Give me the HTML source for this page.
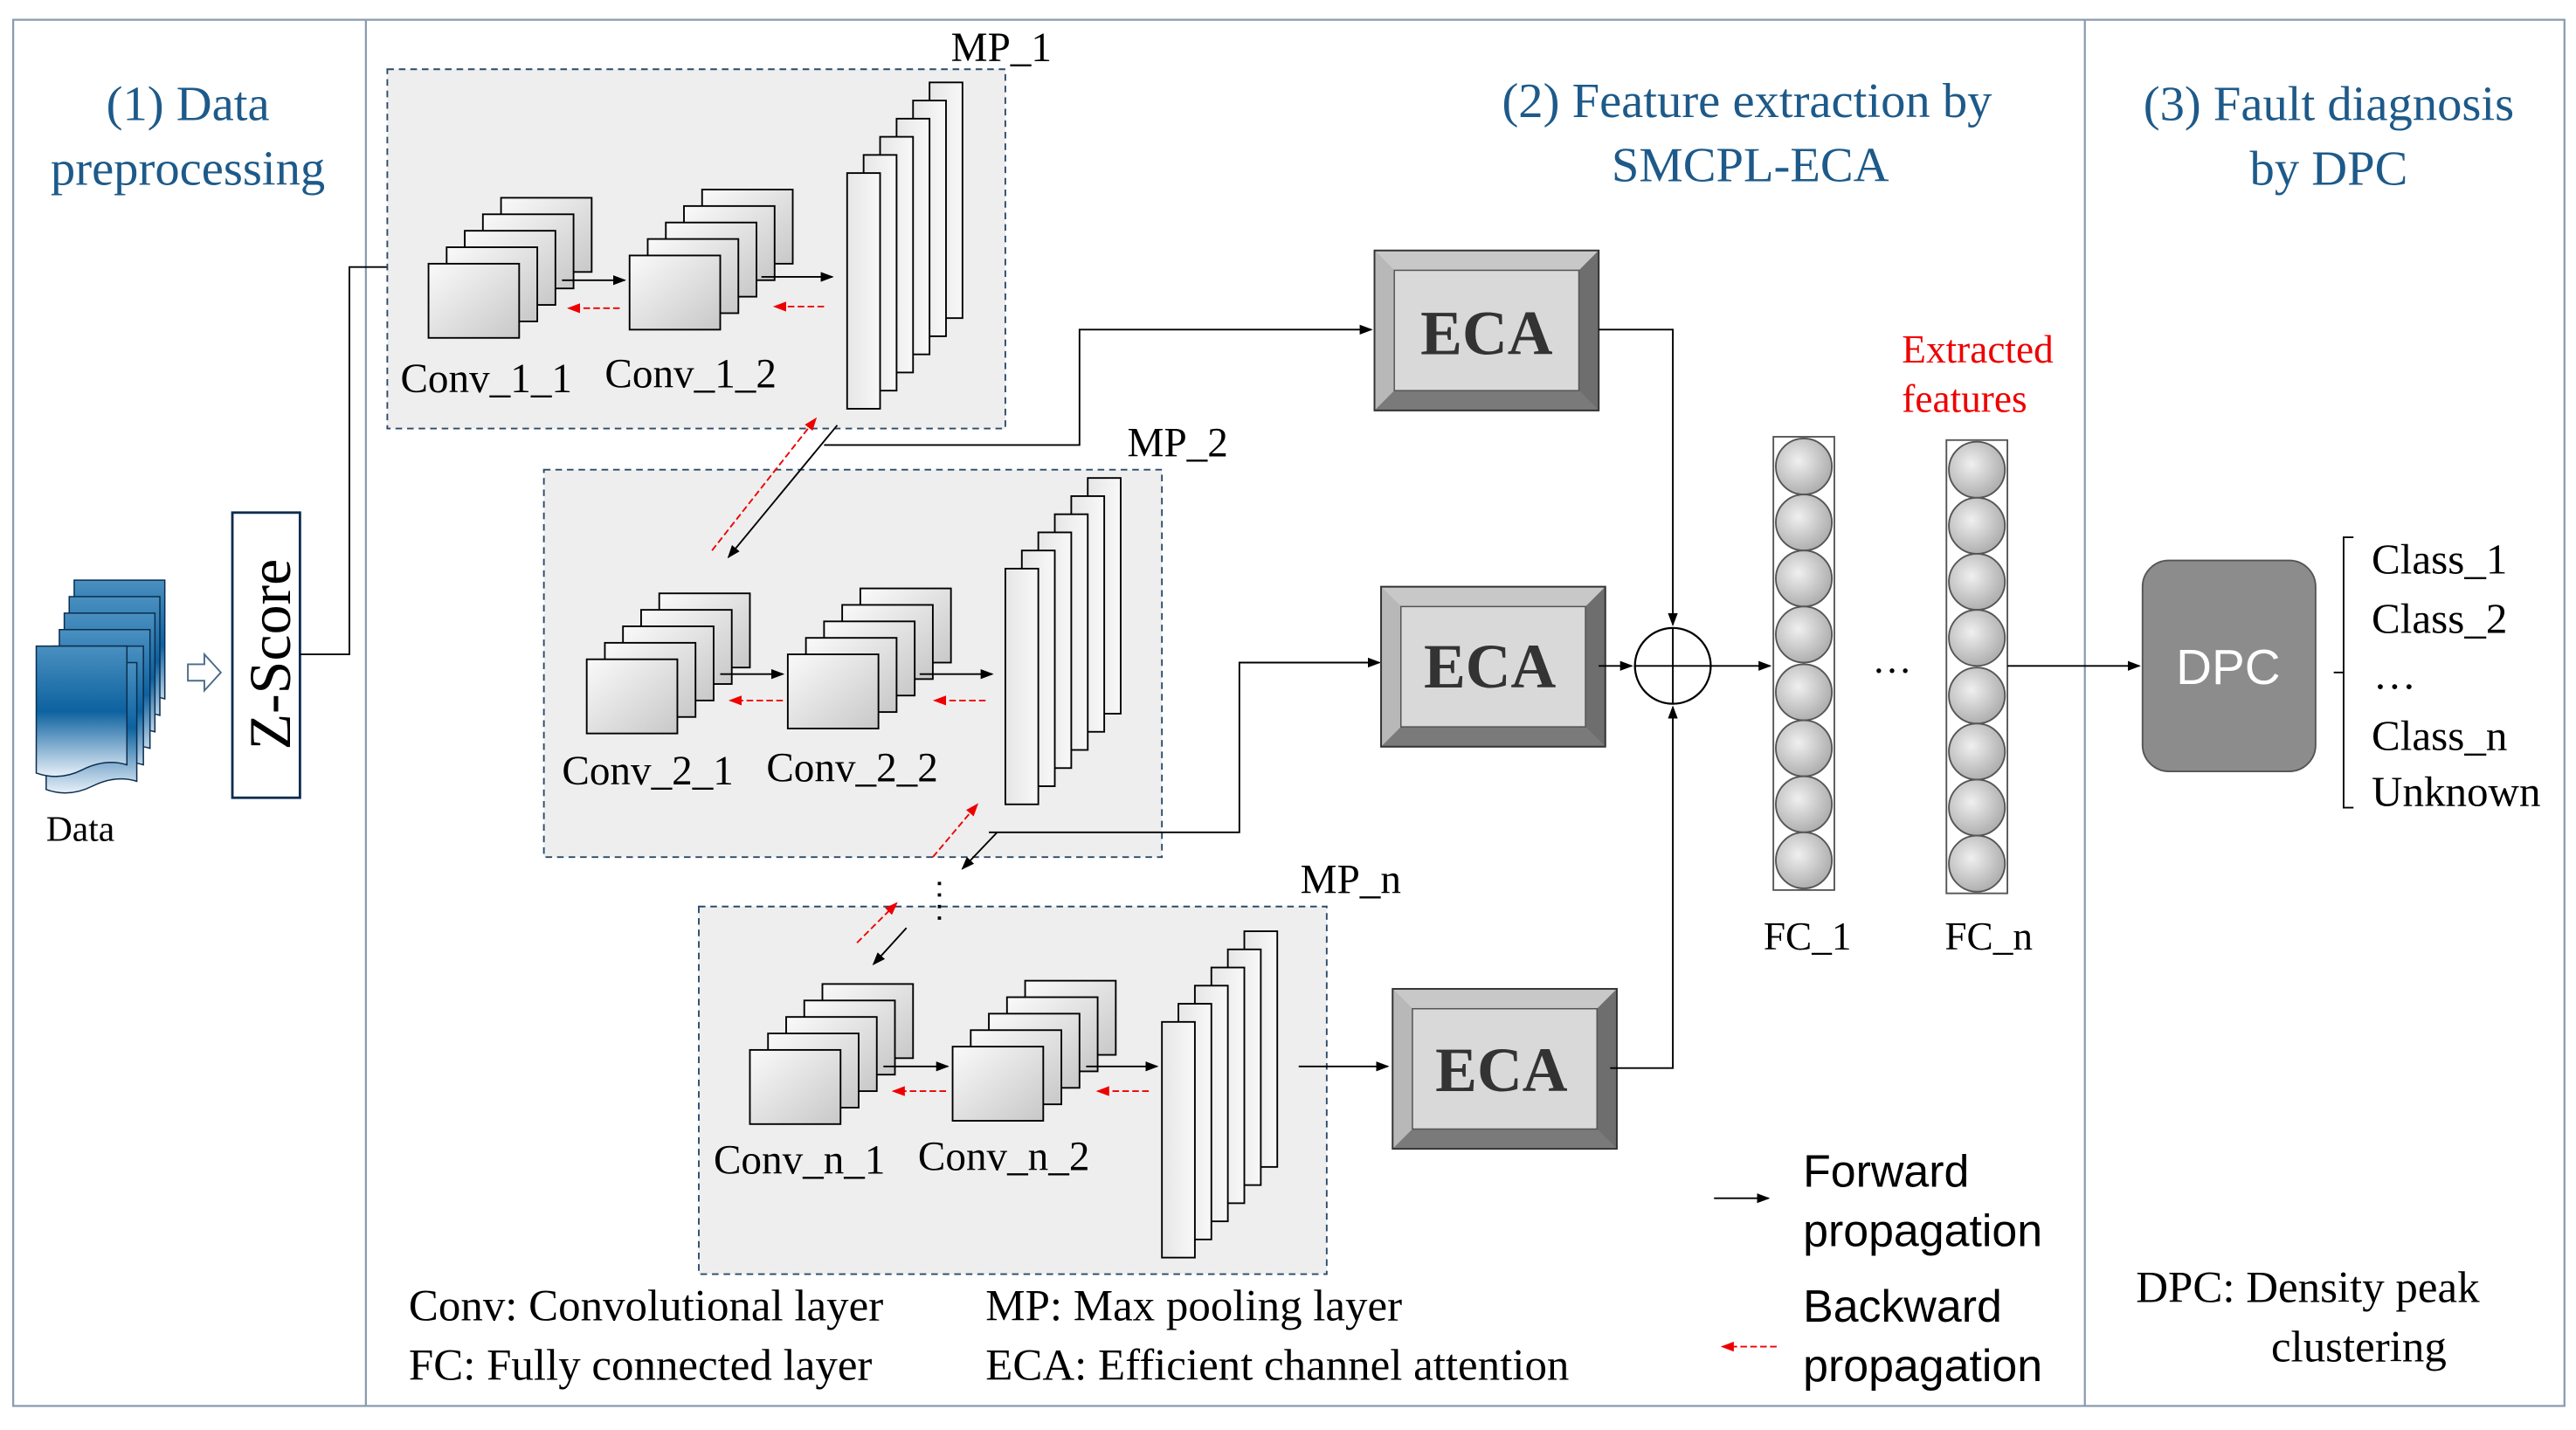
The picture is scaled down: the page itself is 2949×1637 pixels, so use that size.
<!DOCTYPE html>
<html><head><meta charset="utf-8">
<style>
html,body{margin:0;padding:0;background:#fff;}
svg{display:block;}
text{font-family:"Liberation Serif",serif;}
</style></head>
<body>
<svg width="2949" height="1637" viewBox="0 0 1563 867.6" preserveAspectRatio="none" xmlns="http://www.w3.org/2000/svg">
<defs>
<linearGradient id="gc" x1="0" y1="0" x2="1" y2="1"><stop offset="0" stop-color="#fafafa"/><stop offset="1" stop-color="#c8c8c8"/></linearGradient>
<linearGradient id="gm" x1="0" y1="0" x2="1" y2="0"><stop offset="0" stop-color="#e6e6e6"/><stop offset="1" stop-color="#f8f8f8"/></linearGradient>
<radialGradient id="gn" cx="0.4" cy="0.4" r="0.6"><stop offset="0" stop-color="#f0f0f0"/><stop offset="1" stop-color="#b0b0b0"/></radialGradient>
<linearGradient id="gd" x1="0" y1="0" x2="0" y2="1"><stop offset="0" stop-color="#4a90c0"/><stop offset="0.5" stop-color="#0d62a0"/><stop offset="1" stop-color="#e8f0f8"/></linearGradient>
<marker id="ab" markerWidth="8" markerHeight="8" refX="7" refY="4" orient="auto" markerUnits="userSpaceOnUse"><path d="M0,1 L8,4 L0,7 z" fill="#000"/></marker>
<marker id="ar" markerWidth="8" markerHeight="8" refX="7" refY="4" orient="auto" markerUnits="userSpaceOnUse"><path d="M0,1 L8,4 L0,7 z" fill="#e00"/></marker>
<g id="conv">
<rect x="44" y="-40" width="55" height="45" fill="url(#gc)" stroke="#000" stroke-width="1"/>
<rect x="33" y="-30" width="55" height="45" fill="url(#gc)" stroke="#000" stroke-width="1"/>
<rect x="22" y="-20" width="55" height="45" fill="url(#gc)" stroke="#000" stroke-width="1"/>
<rect x="11" y="-10" width="55" height="45" fill="url(#gc)" stroke="#000" stroke-width="1"/>
<rect x="0" y="0" width="55" height="45" fill="url(#gc)" stroke="#000" stroke-width="1"/>
</g>
<g id="mp">
<rect x="50" y="-55" width="20" height="143" fill="url(#gm)" stroke="#000"/>
<rect x="40" y="-44" width="20" height="143" fill="url(#gm)" stroke="#000"/>
<rect x="30" y="-33" width="20" height="143" fill="url(#gm)" stroke="#000"/>
<rect x="20" y="-22" width="20" height="143" fill="url(#gm)" stroke="#000"/>
<rect x="10" y="-11" width="20" height="143" fill="url(#gm)" stroke="#000"/>
<rect x="0" y="0" width="20" height="143" fill="url(#gm)" stroke="#000"/>
</g>
<g id="eca">
<rect x="0" y="0" width="136" height="97" fill="#9a9a9a" stroke="#333"/>
<polygon points="0,0 136,0 124,12 12,12" fill="#c8c8c8"/>
<polygon points="0,0 12,12 12,85 0,97" fill="#b8b8b8"/>
<polygon points="136,0 136,97 124,85 124,12" fill="#6e6e6e"/>
<polygon points="0,97 136,97 124,85 12,85" fill="#7a7a7a"/>
<rect x="12" y="12" width="112" height="73" fill="#d9d9d9" stroke="#555" stroke-width="0.8"/>
<rect x="0" y="0" width="136" height="97" fill="none" stroke="#333"/>
</g>
<g id="fc">
<rect x="0" y="0" width="37" height="275" fill="#fff" stroke="#555"/>
<circle cx="18.5" cy="18" r="17" fill="url(#gn)" stroke="#555"/>
<circle cx="18.5" cy="52" r="17" fill="url(#gn)" stroke="#555"/>
<circle cx="18.5" cy="86" r="17" fill="url(#gn)" stroke="#555"/>
<circle cx="18.5" cy="120" r="17" fill="url(#gn)" stroke="#555"/>
<circle cx="18.5" cy="155" r="17" fill="url(#gn)" stroke="#555"/>
<circle cx="18.5" cy="189" r="17" fill="url(#gn)" stroke="#555"/>
<circle cx="18.5" cy="223" r="17" fill="url(#gn)" stroke="#555"/>
<circle cx="18.5" cy="257" r="17" fill="url(#gn)" stroke="#555"/>
</g>
<g id="sheet"><path d="M0,0 H55 V72 Q42,68 28,75 Q14,82 0,77 Z" fill="url(#gd)" stroke="#0b2d50" stroke-width="0.8"/></g>
</defs>

<rect x="8" y="12" width="1548" height="841" fill="none" stroke="#8a9bb0" stroke-width="1.2"/>
<line x1="222" y1="12" x2="222" y2="853" stroke="#8a9bb0" stroke-width="1.2"/>
<line x1="1265" y1="12" x2="1265" y2="853" stroke="#8a9bb0" stroke-width="1.2"/>

<g fill="#1d5a8a" font-size="30" text-anchor="middle">
<text x="114" y="73">(1) Data</text>
<text x="114" y="112">preprocessing</text>
<text x="1060" y="71">(2) Feature extraction by</text>
<text x="1062" y="110">SMCPL-ECA</text>
<text x="1413" y="73">(3) Fault diagnosis</text>
<text x="1413" y="112">by DPC</text>
</g>

<use href="#sheet" x="45" y="352"/>
<use href="#sheet" x="42" y="362"/>
<use href="#sheet" x="39" y="372"/>
<use href="#sheet" x="36" y="382"/>
<use href="#sheet" x="32" y="392"/>
<use href="#sheet" x="28" y="402"/>
<use href="#sheet" x="22" y="392"/>
<text x="28" y="510" font-size="22">Data</text>
<path d="M114,403 H124 V397 L134,408 L124,419 V413 H114 Z" fill="#fff" stroke="#4a6a8a"/>
<rect x="141" y="311" width="41" height="173" fill="#fff" stroke="#0b2d50" stroke-width="1.5"/>
<text transform="translate(176,397) rotate(-90)" text-anchor="middle" font-size="36">Z-Score</text>
<polyline points="182,397 212,397 212,162 246,162" fill="none" stroke="#000" marker-end="url(#ab)"/>

<rect x="235" y="42" width="375" height="218" fill="#eeeeee" stroke="#2c4a6a" stroke-dasharray="4,3"/>
<use href="#conv" x="260" y="160"/>
<use href="#conv" x="382" y="155"/>
<use href="#mp" x="514" y="105"/>
<line x1="341" y1="170" x2="379" y2="170" stroke="#000" marker-end="url(#ab)"/>
<line x1="376" y1="187" x2="345" y2="187" stroke="#e00" stroke-dasharray="4,2" marker-end="url(#ar)"/>
<line x1="462" y1="168" x2="505" y2="168" stroke="#000" marker-end="url(#ab)"/>
<line x1="500" y1="186" x2="470" y2="186" stroke="#e00" stroke-dasharray="4,2" marker-end="url(#ar)"/>

<rect x="330" y="285" width="375" height="235" fill="#eeeeee" stroke="#2c4a6a" stroke-dasharray="4,3"/>
<use href="#conv" x="356" y="400"/>
<use href="#conv" x="478" y="397"/>
<use href="#mp" x="610" y="345"/>
<line x1="437" y1="409" x2="475" y2="409" stroke="#000" marker-end="url(#ab)"/>
<line x1="475" y1="425" x2="443" y2="425" stroke="#e00" stroke-dasharray="4,2" marker-end="url(#ar)"/>
<line x1="558" y1="409" x2="602" y2="409" stroke="#000" marker-end="url(#ab)"/>
<line x1="598" y1="425" x2="567" y2="425" stroke="#e00" stroke-dasharray="4,2" marker-end="url(#ar)"/>

<rect x="424" y="550" width="381" height="223" fill="#eeeeee" stroke="#2c4a6a" stroke-dasharray="4,3"/>
<use href="#conv" x="455" y="637"/>
<use href="#conv" x="578" y="635"/>
<use href="#mp" x="705" y="620"/>
<line x1="536" y1="647" x2="575" y2="647" stroke="#000" marker-end="url(#ab)"/>
<line x1="574" y1="662" x2="542" y2="662" stroke="#e00" stroke-dasharray="4,2" marker-end="url(#ar)"/>
<line x1="659" y1="647" x2="702" y2="647" stroke="#000" marker-end="url(#ab)"/>
<line x1="697" y1="662" x2="666" y2="662" stroke="#e00" stroke-dasharray="4,2" marker-end="url(#ar)"/>

<g font-size="25">
<text x="243" y="238">Conv_1_1</text>
<text x="367" y="235">Conv_1_2</text>
<text x="577" y="37">MP_1</text>
<text x="684" y="277">MP_2</text>
<text x="341" y="476">Conv_2_1</text>
<text x="465" y="474">Conv_2_2</text>
<text x="433" y="712">Conv_n_1</text>
<text x="557" y="710">Conv_n_2</text>
<text x="789" y="542">MP_n</text>
</g>

<line x1="508" y1="258" x2="442" y2="338" stroke="#000" marker-end="url(#ab)"/>
<line x1="432" y1="334" x2="495" y2="254" stroke="#e00" stroke-dasharray="4,2" marker-end="url(#ar)"/>
<line x1="605" y1="505" x2="584" y2="527" stroke="#000" marker-end="url(#ab)"/>
<line x1="566" y1="520" x2="593" y2="488" stroke="#e00" stroke-dasharray="4,2" marker-end="url(#ar)"/>
<line x1="570" y1="535" x2="570" y2="558" stroke="#000" stroke-width="2" stroke-dasharray="2,5"/>
<line x1="550" y1="563" x2="530" y2="585" stroke="#000" marker-end="url(#ab)"/>
<line x1="520" y1="572" x2="544" y2="548" stroke="#e00" stroke-dasharray="4,2" marker-end="url(#ar)"/>

<polyline points="500,270 655,270 655,200 832,200" fill="none" stroke="#000" marker-end="url(#ab)"/>
<polyline points="600,505 752,505 752,402 837,402" fill="none" stroke="#000" marker-end="url(#ab)"/>
<line x1="788" y1="647" x2="842" y2="647" stroke="#000" marker-end="url(#ab)"/>

<use href="#eca" x="834" y="152"/>
<use href="#eca" x="838" y="356"/>
<use href="#eca" x="845" y="600"/>
<g font-size="38" font-weight="bold" fill="#333" text-anchor="middle">
<text x="902" y="215">ECA</text>
<text x="904" y="417">ECA</text>
<text x="911" y="662">ECA</text>
</g>

<polyline points="970,200 1015,200 1015,379" fill="none" stroke="#000" marker-end="url(#ab)"/>
<line x1="970" y1="404" x2="990" y2="404" stroke="#000" marker-end="url(#ab)"/>
<polyline points="977,648 1015,648 1015,429" fill="none" stroke="#000" marker-end="url(#ab)"/>
<circle cx="1015" cy="404" r="23" fill="#fff" stroke="#000" stroke-width="1.2"/>
<line x1="992" y1="404" x2="1038" y2="404" stroke="#000"/>
<line x1="1015" y1="381" x2="1015" y2="427" stroke="#000"/>
<line x1="1038" y1="404" x2="1074" y2="404" stroke="#000" marker-end="url(#ab)"/>

<use href="#fc" x="1076" y="265"/>
<use href="#fc" x="1181" y="267"/>
<text x="1148" y="408" font-size="24" text-anchor="middle">…</text>
<text x="1070" y="576" font-size="24">FC_1</text>
<text x="1180" y="576" font-size="24">FC_n</text>
<text x="1154" y="220" font-size="24" fill="#e00">Extracted</text>
<text x="1154" y="250" font-size="24" fill="#e00">features</text>
<line x1="1218" y1="404" x2="1298" y2="404" stroke="#000" marker-end="url(#ab)"/>

<rect x="1300" y="340" width="105" height="128" rx="16" fill="#8c8c8c" stroke="#555"/>
<text x="1352" y="415" font-size="30" fill="#fff" text-anchor="middle" style="font-family:'Liberation Sans',sans-serif">DPC</text>
<path d="M1428,326 H1422 V490 H1428 M1422,408 H1416" fill="none" stroke="#000"/>
<g font-size="26">
<text x="1439" y="348">Class_1</text>
<text x="1439" y="384">Class_2</text>
<text x="1440" y="418">…</text>
<text x="1439" y="455">Class_n</text>
<text x="1439" y="489">Unknown</text>
</g>

<g font-size="27">
<text x="248" y="801">Conv: Convolutional layer</text>
<text x="248" y="837">FC: Fully connected layer</text>
<text x="598" y="801">MP: Max pooling layer</text>
<text x="598" y="837">ECA: Efficient channel attention</text>
<text x="1296" y="790">DPC:  Density peak</text>
<text x="1378" y="826">clustering</text>
</g>
<line x1="1040" y1="727" x2="1073" y2="727" stroke="#000" marker-end="url(#ab)"/>
<line x1="1078" y1="817" x2="1045" y2="817" stroke="#e00" stroke-dasharray="4,2" marker-end="url(#ar)"/>
<g font-size="27.5">
<text x="1094" y="720" style="font-family:'Liberation Sans',sans-serif">Forward</text>
<text x="1094" y="756" style="font-family:'Liberation Sans',sans-serif">propagation</text>
<text x="1094" y="802" style="font-family:'Liberation Sans',sans-serif">Backward</text>
<text x="1094" y="838" style="font-family:'Liberation Sans',sans-serif">propagation</text>
</g>
</svg>
</body></html>
